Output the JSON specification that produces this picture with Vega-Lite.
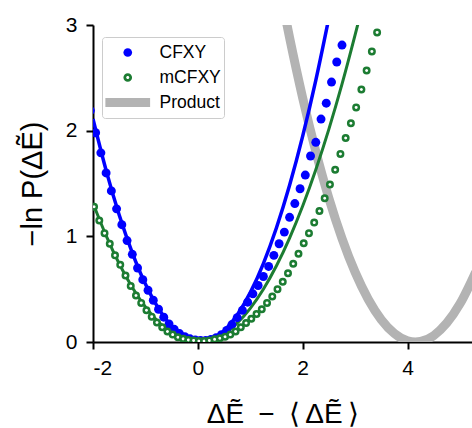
{
  "$schema": "https://vega.github.io/schema/vega-lite/v6.json",
  "autosize": {"type": "none"},
  "width": 379,
  "height": 317,
  "padding": {"left": 93, "top": 25, "right": 0, "bottom": 86},
  "background": "white",
  "config": {
    "view": {"stroke": null},
    "font": "Liberation Sans",
    "axis": {
      "domainColor": "black", "domainWidth": 2, "tickColor": "black", "tickWidth": 2, "tickSize": 7,
      "labelFontSize": 21, "labelColor": "black", "labelFont": "Liberation Sans",
      "titleFont": "Liberation Sans", "titleColor": "black", "titleFontWeight": "normal", "grid": false
    }
  },
  "datasets": {
    "cfxy": [
      {"x": -2.05, "y": 2.19}, {"x": -1.95, "y": 1.98}, {"x": -1.85, "y": 1.79}, {"x": -1.75, "y": 1.60},
      {"x": -1.65, "y": 1.43}, {"x": -1.55, "y": 1.26}, {"x": -1.45, "y": 1.11}, {"x": -1.35, "y": 0.96},
      {"x": -1.25, "y": 0.83}, {"x": -1.15, "y": 0.70}, {"x": -1.05, "y": 0.59}, {"x": -0.95, "y": 0.49},
      {"x": -0.85, "y": 0.395}, {"x": -0.75, "y": 0.31}, {"x": -0.65, "y": 0.235}, {"x": -0.55, "y": 0.17},
      {"x": -0.45, "y": 0.12}, {"x": -0.35, "y": 0.08}, {"x": -0.25, "y": 0.05}, {"x": -0.15, "y": 0.03},
      {"x": -0.05, "y": 0.02}, {"x": 0.05, "y": 0.015}, {"x": 0.15, "y": 0.015}, {"x": 0.25, "y": 0.025},
      {"x": 0.35, "y": 0.04}, {"x": 0.45, "y": 0.07}, {"x": 0.55, "y": 0.11}, {"x": 0.65, "y": 0.165},
      {"x": 0.75, "y": 0.23}, {"x": 0.85, "y": 0.30}, {"x": 0.95, "y": 0.377}, {"x": 1.05, "y": 0.456},
      {"x": 1.15, "y": 0.535}, {"x": 1.25, "y": 0.62}, {"x": 1.35, "y": 0.715}, {"x": 1.45, "y": 0.82},
      {"x": 1.55, "y": 0.93}, {"x": 1.65, "y": 1.04}, {"x": 1.75, "y": 1.18}, {"x": 1.85, "y": 1.31},
      {"x": 1.95, "y": 1.45}, {"x": 2.05, "y": 1.58}, {"x": 2.15, "y": 1.76}, {"x": 2.25, "y": 1.89},
      {"x": 2.35, "y": 2.11}, {"x": 2.45, "y": 2.26}, {"x": 2.55, "y": 2.46}, {"x": 2.65, "y": 2.65},
      {"x": 2.75, "y": 2.81}
    ],
    "mcfxy": [
      {"x": -1.98, "y": 1.28}, {"x": -1.88, "y": 1.15}, {"x": -1.78, "y": 1.03}, {"x": -1.68, "y": 0.93},
      {"x": -1.58, "y": 0.82}, {"x": -1.48, "y": 0.73}, {"x": -1.38, "y": 0.63}, {"x": -1.28, "y": 0.53},
      {"x": -1.18, "y": 0.44}, {"x": -1.08, "y": 0.37}, {"x": -0.98, "y": 0.30}, {"x": -0.88, "y": 0.24},
      {"x": -0.78, "y": 0.185}, {"x": -0.68, "y": 0.14}, {"x": -0.58, "y": 0.10}, {"x": -0.48, "y": 0.07},
      {"x": -0.38, "y": 0.045}, {"x": -0.28, "y": 0.03}, {"x": -0.18, "y": 0.02}, {"x": -0.08, "y": 0.015},
      {"x": 0.02, "y": 0.01}, {"x": 0.12, "y": 0.01}, {"x": 0.22, "y": 0.015}, {"x": 0.32, "y": 0.025},
      {"x": 0.42, "y": 0.035}, {"x": 0.52, "y": 0.05}, {"x": 0.62, "y": 0.07}, {"x": 0.72, "y": 0.10},
      {"x": 0.82, "y": 0.14}, {"x": 0.92, "y": 0.18}, {"x": 1.02, "y": 0.22}, {"x": 1.12, "y": 0.265},
      {"x": 1.22, "y": 0.31}, {"x": 1.32, "y": 0.37}, {"x": 1.42, "y": 0.43}, {"x": 1.52, "y": 0.50},
      {"x": 1.62, "y": 0.57}, {"x": 1.72, "y": 0.65}, {"x": 1.82, "y": 0.74}, {"x": 1.92, "y": 0.835},
      {"x": 2.02, "y": 0.935}, {"x": 2.12, "y": 1.03}, {"x": 2.22, "y": 1.13}, {"x": 2.32, "y": 1.24},
      {"x": 2.42, "y": 1.36}, {"x": 2.52, "y": 1.49}, {"x": 2.62, "y": 1.63}, {"x": 2.72, "y": 1.78},
      {"x": 2.82, "y": 1.93}, {"x": 2.92, "y": 2.07}, {"x": 3.02, "y": 2.22}, {"x": 3.12, "y": 2.39},
      {"x": 3.22, "y": 2.57}, {"x": 3.32, "y": 2.75}, {"x": 3.42, "y": 2.93}
    ],
    "cfxyFit": [
      {"x": -2.0, "y": 2.110}, {"x": -1.75, "y": 1.624}, {"x": -1.5, "y": 1.202}, {"x": -1.25, "y": 0.844},
      {"x": -1.0, "y": 0.548}, {"x": -0.75, "y": 0.316}, {"x": -0.5, "y": 0.148}, {"x": -0.25, "y": 0.043},
      {"x": 0.0, "y": 0.001}, {"x": 0.25, "y": 0.022}, {"x": 0.5, "y": 0.107}, {"x": 0.75, "y": 0.256},
      {"x": 1.0, "y": 0.467}, {"x": 1.25, "y": 0.742}, {"x": 1.5, "y": 1.081}, {"x": 1.75, "y": 1.483},
      {"x": 2.0, "y": 1.948}, {"x": 2.25, "y": 2.476}, {"x": 2.5, "y": 3.068}
    ],
    "mcfxyFit": [
      {"x": -2.0, "y": 1.313}, {"x": -1.75, "y": 1.007}, {"x": -1.5, "y": 0.741}, {"x": -1.25, "y": 0.516},
      {"x": -1.0, "y": 0.332}, {"x": -0.75, "y": 0.188}, {"x": -0.5, "y": 0.085}, {"x": -0.25, "y": 0.022},
      {"x": 0.0, "y": 0.0}, {"x": 0.25, "y": 0.019}, {"x": 0.5, "y": 0.078}, {"x": 0.75, "y": 0.178},
      {"x": 1.0, "y": 0.319}, {"x": 1.25, "y": 0.500}, {"x": 1.5, "y": 0.722}, {"x": 1.75, "y": 0.984},
      {"x": 2.0, "y": 1.287}, {"x": 2.25, "y": 1.631}, {"x": 2.5, "y": 2.015}, {"x": 2.75, "y": 2.440},
      {"x": 3.0, "y": 2.906}, {"x": 3.1, "y": 3.10}
    ],
    "product": [
      {"x": 1.6, "y": 3.25}, {"x": 1.75, "y": 2.88}, {"x": 2.0, "y": 2.31}, {"x": 2.25, "y": 1.805},
      {"x": 2.5, "y": 1.361}, {"x": 2.75, "y": 0.98}, {"x": 3.0, "y": 0.661}, {"x": 3.25, "y": 0.405},
      {"x": 3.5, "y": 0.211}, {"x": 3.75, "y": 0.08}, {"x": 4.0, "y": 0.011}, {"x": 4.15, "y": 0.0},
      {"x": 4.25, "y": 0.005}, {"x": 4.5, "y": 0.061}, {"x": 4.75, "y": 0.18}, {"x": 5.0, "y": 0.361},
      {"x": 5.3, "y": 0.661}
    ]
  },
  "layer": [
    {
      "data": {"name": "product"},
      "mark": {"type": "line", "strokeWidth": 9, "clip": true, "interpolate": "monotone"},
      "encoding": {
        "x": {"field": "x", "type": "quantitative",
          "scale": {"domain": [-2, 5.23], "nice": false, "zero": false},
          "axis": {"values": [-2, 0, 2, 4], "labelExpr": "datum.value < 0 ? '-' + abs(datum.value) : '' + datum.value",
            "labelPadding": 8,
            "title": "ΔẼ\u2002−\u2002⟨\u2009ΔẼ\u2009⟩", "titleFontSize": 28, "titlePadding": 22}},
        "y": {"field": "y", "type": "quantitative",
          "scale": {"domain": [0, 3], "nice": false, "zero": false},
          "axis": {"values": [0, 1, 2, 3], "format": "d", "labelPadding": 9,
            "title": "−ln P(ΔẼ)", "titleFontSize": 29, "titlePadding": 18}},
        "color": {"datum": "Product", "type": "nominal",
          "scale": {"domain": ["CFXY", "mCFXY", "Product"], "range": ["#0000ff", "#1c7c32", "#b3b3b3"]},
          "legend": {
            "orient": "none", "legendX": 9, "legendY": 12, "title": null,
            "fillColor": "white", "strokeColor": "#cccccc", "cornerRadius": 3, "padding": 3,
            "labelFontSize": 17.5, "labelFont": "Liberation Sans", "labelColor": "black",
            "labelExpr": "datum.label + '\u2002\u2009'",
            "clipHeight": 25, "rowPadding": 0,
            "symbolSize": 2000, "symbolOffset": 14, "labelOffset": 23,
            "encode": {
              "symbols": {"update": {
                "shape": {"signal": "datum.value === 'Product' ? 'stroke' : (datum.value === 'mCFXY' ? 'M1,0A1,1 0 1,1 -1,0A1,1 0 1,1 1,0Z M0.36,0A0.36,0.36 0 1,0 -0.36,0A0.36,0.36 0 1,0 0.36,0Z' : 'circle')"},
                "size": {"signal": "datum.value === 'Product' ? 2000 : 75"},
                "fill": {"signal": "datum.value === 'CFXY' ? '#0000ff' : (datum.value === 'mCFXY' ? '#1c7c32' : 'transparent')"},
                "fillOpacity": {"value": 1},
                "stroke": {"signal": "datum.value === 'CFXY' ? '#0000ff' : (datum.value === 'mCFXY' ? 'transparent' : '#b3b3b3')"},
                "strokeWidth": {"signal": "datum.value === 'Product' ? 9 : 0"},
                "opacity": {"value": 1}
              }}
            }
          }}
      }
    },
    {
      "data": {"name": "cfxyFit"},
      "mark": {"type": "line", "strokeWidth": 3.5, "clip": true, "interpolate": "monotone", "color": "#0000ff"},
      "encoding": {
        "x": {"field": "x", "type": "quantitative"},
        "y": {"field": "y", "type": "quantitative"}
      }
    },
    {
      "data": {"name": "mcfxyFit"},
      "mark": {"type": "line", "strokeWidth": 3, "clip": true, "interpolate": "monotone", "color": "#1c7c32"},
      "encoding": {
        "x": {"field": "x", "type": "quantitative"},
        "y": {"field": "y", "type": "quantitative"}
      }
    },
    {
      "data": {"name": "cfxy"},
      "mark": {"type": "circle", "size": 80, "opacity": 1, "clip": true},
      "encoding": {
        "x": {"field": "x", "type": "quantitative"},
        "y": {"field": "y", "type": "quantitative"},
        "color": {"datum": "CFXY", "type": "nominal", "legend": null}
      }
    },
    {
      "data": {"name": "mcfxy"},
      "mark": {"type": "point", "shape": "circle", "filled": false, "fill": "white", "fillOpacity": 1, "size": 30, "strokeWidth": 2.5, "opacity": 1, "clip": true},
      "encoding": {
        "x": {"field": "x", "type": "quantitative"},
        "y": {"field": "y", "type": "quantitative"},
        "color": {"datum": "mCFXY", "type": "nominal", "legend": null}
      }
    },
    {
      "mark": {"type": "rule", "color": "black", "strokeWidth": 2},
      "encoding": {"y": {"datum": 3}}
    }
  ]
}
